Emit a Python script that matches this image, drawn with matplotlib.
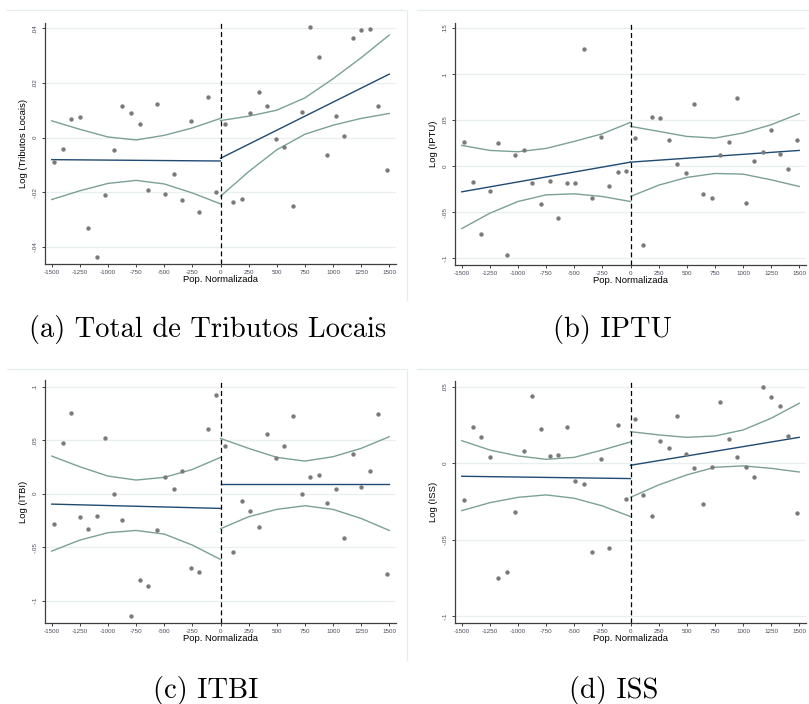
import matplotlib
matplotlib.use("Agg")
import matplotlib.pyplot as plt
from matplotlib.lines import Line2D

# bin centres (population distance to the cutoff)
BIN_LEFT = [-1480, -1404, -1328, -1252, -1176, -1100, -1024, -948, -872, -796,
            -720, -644, -568, -492, -416, -340, -264, -188, -112, -36]
BIN_RIGHT = [36, 112, 188, 264, 340, 416, 492, 568, 644, 720,
             796, 872, 948, 1024, 1100, 1176, 1252, 1328, 1404, 1480]

# grid where the fitted line and the confidence band are drawn
GRID_LEFT = [-1500, -1250, -1000, -750, -500, -250, 0]
GRID_RIGHT = [0, 250, 500, 750, 1000, 1250, 1500]
FIT_X_LEFT = [-1500, 0]
FIT_X_RIGHT = [0, 1500]

# (a) Total de Tributos Locais
trib_left = [-0.0091, -0.0043, 0.0067, 0.0074, -0.0331, -0.0439, -0.0210, -0.0046, 0.0115, 0.0091,
             0.0050, -0.0193, 0.0123, -0.0205, -0.0135, -0.0229, 0.0059, -0.0273, 0.0148, -0.0198]
trib_right = [0.0050, -0.0237, -0.0226, 0.0090, 0.0167, 0.0115, -0.0007, -0.0034, -0.0249, 0.0095,
              0.0403, 0.0293, -0.0063, 0.0078, 0.0006, 0.0366, 0.0394, 0.0398, 0.0115, -0.0120]
trib_fit_left = [-0.0081, -0.0086]
trib_fit_right = [-0.0076, 0.0232]
trib_hi_left = [0.0061, 0.0030, 0.0002, -0.0009, 0.0008, 0.0035, 0.0070]
trib_lo_left = [-0.0227, -0.0195, -0.0168, -0.0157, -0.0170, -0.0203, -0.0243]
trib_hi_right = [0.0062, 0.0078, 0.0100, 0.0145, 0.0215, 0.0292, 0.0375]
trib_lo_right = [-0.0215, -0.0125, -0.0045, 0.0012, 0.0045, 0.0070, 0.0088]

# (b) IPTU
iptu_left = [0.0261, -0.0174, -0.0739, -0.0268, 0.0250, -0.0967, 0.0116, 0.0178, -0.0185, -0.0413,
             -0.0159, -0.0558, -0.0185, -0.0185, 0.1272, -0.0341, 0.0312, -0.0221, -0.0065, -0.0054]
iptu_right = [0.0308, -0.0859, 0.0536, 0.0525, 0.0286, 0.0022, -0.0076, 0.0670, -0.0304, -0.0341,
              0.0120, 0.0261, 0.0743, -0.0402, 0.0054, 0.0152, 0.0391, 0.0130, -0.0036, 0.0286]
iptu_fit_left = [-0.0279, 0.0043]
iptu_fit_right = [0.0043, 0.0170]
iptu_hi_left = [0.0225, 0.0170, 0.0156, 0.0192, 0.0268, 0.0351, 0.0475]
iptu_lo_left = [-0.0678, -0.0511, -0.0384, -0.0312, -0.0301, -0.0330, -0.0384]
iptu_hi_right = [0.0431, 0.0377, 0.0322, 0.0304, 0.0359, 0.0449, 0.0569]
iptu_lo_right = [-0.0330, -0.0207, -0.0123, -0.0080, -0.0087, -0.0149, -0.0221]

# (c) ITBI
itbi_left = [-0.0283, 0.0477, 0.0757, -0.0221, -0.0327, -0.0212, 0.0517, -0.0006, -0.0243, -0.1140,
             -0.0810, -0.0863, -0.0336, 0.0159, 0.0044, 0.0209, -0.0698, -0.0729, 0.0601, 0.0922]
itbi_right = [0.0445, -0.0542, -0.0069, -0.0162, -0.0315, 0.0561, 0.0333, 0.0445, 0.0726, -0.0006,
              0.0159, 0.0178, -0.0090, 0.0044, -0.0417, 0.0368, 0.0065, 0.0209, 0.0744, -0.0748]
itbi_fit_left = [-0.0097, -0.0137]
itbi_fit_right = [0.0090, 0.0090]
itbi_hi_left = [0.0352, 0.0252, 0.0165, 0.0128, 0.0153, 0.0227, 0.0340]
itbi_lo_left = [-0.0536, -0.0433, -0.0364, -0.0343, -0.0377, -0.0480, -0.0614]
itbi_hi_right = [0.0517, 0.0424, 0.0340, 0.0305, 0.0346, 0.0424, 0.0533]
itbi_lo_right = [-0.0327, -0.0215, -0.0146, -0.0112, -0.0146, -0.0231, -0.0343]

# (d) ISS
iss_left = [-0.0238, 0.0238, 0.0172, 0.0041, -0.0751, -0.0714, -0.0319, 0.0079, 0.0441, 0.0223,
            0.0048, 0.0057, 0.0238, -0.0116, -0.0138, -0.0578, 0.0028, -0.0557, 0.0253, -0.0231]
iss_right = [0.0288, -0.0210, -0.0347, 0.0144, 0.0100, 0.0310, 0.0063, -0.0031, -0.0266, -0.0022,
             0.0404, 0.0159, 0.0041, -0.0022, -0.0087, 0.0498, 0.0432, 0.0375, 0.0181, -0.0325]
iss_fit_left = [-0.0085, -0.0100]
iss_fit_right = [-0.0013, 0.0170]
iss_hi_left = [0.0148, 0.0087, 0.0048, 0.0026, 0.0039, 0.0087, 0.0140]
iss_lo_left = [-0.0310, -0.0258, -0.0223, -0.0207, -0.0229, -0.0279, -0.0349]
iss_hi_right = [0.0207, 0.0186, 0.0170, 0.0179, 0.0218, 0.0295, 0.0393]
iss_lo_right = [-0.0223, -0.0142, -0.0076, -0.0026, -0.0017, -0.0033, -0.0057]

X_TICKS = [-1500, -1250, -1000, -750, -500, -250, 0, 250, 500, 750, 1000, 1250, 1500]

NAVY = "#1f4a72"
BAND = "#7aa291"
DOT = "#7a7a7a"
AXIS = "#3f3f3f"
TICKTXT = "#454b5a"
GRIDC = "#e8eff1"
FRAME = "#e3ecee"

W, H = 809, 704


def ytick_label(v):
    if v == 0:
        return "0"
    s = f"{v:g}"
    return s.replace("0.", ".")


def px_rect(left, top, right, bottom):
    return [left / W, 1 - bottom / H, (right - left) / W, (bottom - top) / H]


def draw_panel(ax, ylabel, yticks, ylim, left, right, fit_l, fit_r, hi_l, lo_l, hi_r, lo_r):
    for y in yticks:
        ax.axhline(y, color=GRIDC, lw=0.9, zorder=0)
    ax.plot(GRID_LEFT, hi_l, color=BAND, lw=1.0, zorder=2)
    ax.plot(GRID_LEFT, lo_l, color=BAND, lw=1.0, zorder=2)
    ax.plot(GRID_RIGHT, hi_r, color=BAND, lw=1.0, zorder=2)
    ax.plot(GRID_RIGHT, lo_r, color=BAND, lw=1.0, zorder=2)
    ax.plot(FIT_X_LEFT, fit_l, color=NAVY, lw=1.0, zorder=3)
    ax.plot(FIT_X_RIGHT, fit_r, color=NAVY, lw=1.0, zorder=3)
    ax.scatter(BIN_LEFT, left, s=10, color=DOT, zorder=4, linewidths=0)
    ax.scatter(BIN_RIGHT, right, s=10, color=DOT, zorder=4, linewidths=0)
    ax.axvline(0, color="black", lw=0.9, ls=(0, (4, 2.5)), zorder=5)

    ax.set_xlim(-1560, 1560)
    ax.set_ylim(*ylim)
    ax.set_xticks(X_TICKS)
    ax.set_xticklabels([str(t) for t in X_TICKS])
    ax.set_yticks(yticks)
    ax.set_yticklabels([ytick_label(t) for t in yticks], rotation=90, va="center")
    ax.tick_params(axis="both", direction="out", length=2.5, width=0.7, color=AXIS,
                   labelsize=4.5, labelcolor=TICKTXT, pad=1.5)
    ax.tick_params(axis="y", pad=3)
    for side in ("top", "right"):
        ax.spines[side].set_visible(False)
    for side in ("left", "bottom"):
        ax.spines[side].set_color(AXIS)
        ax.spines[side].set_linewidth(0.9)
    ax.set_xlabel("Pop. Normalizada", fontsize=6.8, labelpad=0)
    ax.set_ylabel(ylabel, fontsize=6.8, labelpad=3)


plt.rcParams["font.family"] = ["Liberation Sans", "DejaVu Sans"]
fig = plt.figure(figsize=(W / 100, H / 100), dpi=100)

# faint outlines of the graph regions
for x0, x1, y in [(7, 405, 10), (417, 809, 10), (7, 405, 369), (417, 809, 369)]:
    fig.add_artist(Line2D([x0 / W, x1 / W], [1 - y / H, 1 - y / H], color=FRAME, lw=0.9))
for y0, y1 in [(10, 300), (369, 660)]:
    fig.add_artist(Line2D([407 / W, 407 / W], [1 - y0 / H, 1 - y1 / H], color=FRAME, lw=0.9))

ax_a = fig.add_axes(px_rect(45, 22.5, 396, 264))
draw_panel(ax_a, "Log (Tributos Locais)", [-0.04, -0.02, 0, 0.02, 0.04], (-0.0463, 0.0421),
           trib_left, trib_right, trib_fit_left, trib_fit_right,
           trib_hi_left, trib_lo_left, trib_hi_right, trib_lo_right)

ax_b = fig.add_axes(px_rect(455, 22.5, 806, 265))
draw_panel(ax_b, "Log (IPTU)", [-0.1, -0.05, 0, 0.05, 0.1, 0.15], (-0.1073, 0.1558),
           iptu_left, iptu_right, iptu_fit_left, iptu_fit_right,
           iptu_hi_left, iptu_lo_left, iptu_hi_right, iptu_lo_right)

ax_c = fig.add_axes(px_rect(45, 380, 396, 623))
draw_panel(ax_c, "Log (ITBI)", [-0.1, -0.05, 0, 0.05, 0.1], (-0.1208, 0.1063),
           itbi_left, itbi_right, itbi_fit_left, itbi_fit_right,
           itbi_hi_left, itbi_lo_left, itbi_hi_right, itbi_lo_right)

ax_d = fig.add_axes(px_rect(455, 381, 806, 623))
draw_panel(ax_d, "Log (ISS)", [-0.1, -0.05, 0, 0.05], (-0.1046, 0.0539),
           iss_left, iss_right, iss_fit_left, iss_fit_right,
           iss_hi_left, iss_lo_left, iss_hi_right, iss_lo_right)

# subfigure captions
cap = dict(fontsize=20.5, family="cmr10", ha="center", va="baseline")
fig.text(208 / W, 1 - 337 / H, "(a) Total de Tributos Locais", **cap)
fig.text(612 / W, 1 - 337 / H, "(b) IPTU", **cap)
fig.text(206 / W, 1 - 698 / H, "(c) ITBI", **cap)
fig.text(614 / W, 1 - 698 / H, "(d) ISS", **cap)

fig.savefig("out.png", dpi=100)
